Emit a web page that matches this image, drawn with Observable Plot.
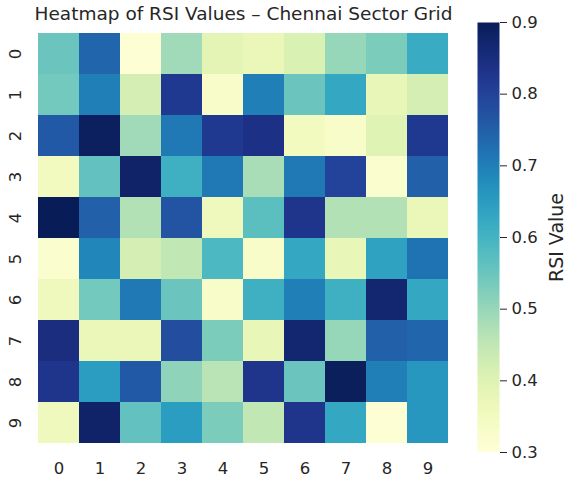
<!DOCTYPE html>
<html>
<head>
<meta charset="utf-8">
<script src="https://cdn.jsdelivr.net/npm/d3@7"></script>
<script src="https://cdn.jsdelivr.net/npm/@observablehq/plot@0.6"></script>
<style>
  html, body { margin: 0; padding: 0; background: #fff; }
  #chart { position: relative; width: 566px; height: 479px; font-family: "DejaVu Sans", sans-serif; }
  #chart svg { position: absolute; left: 0; top: 0; }
</style>
</head>
<body>
<div id="chart"></div>
<script>
// Sector grid: row index (0–9) by column index (0–9)
const rows = [0, 1, 2, 3, 4, 5, 6, 7, 8, 9];
const cols = [0, 1, 2, 3, 4, 5, 6, 7, 8, 9];

// RSI value for each sector, one array per row
const rsiRow0 = [0.55, 0.74, 0.31, 0.49, 0.39, 0.37, 0.41, 0.50, 0.53, 0.62];
const rsiRow1 = [0.54, 0.70, 0.42, 0.82, 0.33, 0.70, 0.55, 0.63, 0.38, 0.42];
const rsiRow2 = [0.76, 0.89, 0.49, 0.71, 0.82, 0.84, 0.35, 0.33, 0.40, 0.82];
const rsiRow3 = [0.35, 0.56, 0.88, 0.61, 0.71, 0.48, 0.71, 0.80, 0.32, 0.75];
const rsiRow4 = [0.90, 0.75, 0.47, 0.77, 0.36, 0.57, 0.83, 0.47, 0.47, 0.37];
const rsiRow5 = [0.32, 0.69, 0.42, 0.45, 0.59, 0.33, 0.63, 0.38, 0.64, 0.72];
const rsiRow6 = [0.36, 0.54, 0.71, 0.55, 0.33, 0.61, 0.70, 0.61, 0.87, 0.63];
const rsiRow7 = [0.85, 0.375, 0.375, 0.78, 0.53, 0.38, 0.87, 0.50, 0.75, 0.74];
const rsiRow8 = [0.83, 0.65, 0.76, 0.51, 0.46, 0.83, 0.55, 0.895, 0.70, 0.66];
const rsiRow9 = [0.36, 0.88, 0.56, 0.65, 0.53, 0.45, 0.83, 0.63, 0.31, 0.66];

const colorTicks = [0.3, 0.4, 0.5, 0.6, 0.7, 0.8, 0.9];
const titleText = "Heatmap of RSI Values – Chennai Sector Grid";
const legendLabel = "RSI Value";

const rsiRows = [rsiRow0, rsiRow1, rsiRow2, rsiRow3, rsiRow4, rsiRow5, rsiRow6, rsiRow7, rsiRow8, rsiRow9];
const cells = rows.flatMap((r) => cols.map((c) => ({row: r, col: c, rsi: rsiRows[r][c]})));

const ink = "#262626";
const colorScale = {type: "linear", scheme: "YlGnBu", domain: [0.3, 0.9], clamp: true};
const W = 566, H = 479;

const heatmap = Plot.plot({
  width: W,
  height: H,
  marginLeft: 35,
  marginRight: 115,
  marginTop: 29,
  marginBottom: 33,
  style: {fontFamily: "DejaVu Sans, sans-serif", fontSize: "16.5px", color: ink, background: "transparent"},
  x: {type: "band", domain: cols, padding: 0},
  y: {type: "band", domain: rows, padding: 0},
  color: colorScale,
  marks: [
    Plot.cell(cells, {x: "col", y: "row", fill: "rsi", inset: 0}),
    Plot.axisX({anchor: "bottom", tickSize: 0, tickPadding: 16, label: null, fill: ink}),
    Plot.axisY({anchor: "left", tickSize: 0, tickPadding: 15, tickRotate: -90, label: null, fill: ink}),
    Plot.text([titleText], {frameAnchor: "top", dy: -15, lineAnchor: "middle", fontSize: 18.5, fill: ink})
  ]
});

const colorbar = Plot.plot({
  width: W,
  height: H,
  marginLeft: 477,
  marginRight: 67,
  marginTop: 22,
  marginBottom: 27,
  style: {fontFamily: "DejaVu Sans, sans-serif", fontSize: "16.5px", color: ink, background: "transparent"},
  x: {domain: [0, 1], axis: null},
  y: {domain: [0.3, 0.9]},
  color: colorScale,
  marks: [
    Plot.raster({x1: 0, x2: 1, y1: 0.3, y2: 0.9, width: 1, height: 300, fill: (x, y) => y, imageRendering: "auto"}),
    Plot.axisY({
      anchor: "right", ticks: colorTicks, tickFormat: ".1f", tickSize: 7, tickPadding: 5,
      label: null, fill: ink, stroke: ink
    }),
    Plot.axisY({
      anchor: "right", ticks: [], tickSize: 0,
      label: legendLabel, labelAnchor: "center", labelArrow: "none", labelOffset: 63,
      fontSize: 19, fill: ink
    })
  ]
});

const root = document.getElementById("chart");
root.appendChild(heatmap);
root.appendChild(colorbar);
</script>
</body>
</html>
